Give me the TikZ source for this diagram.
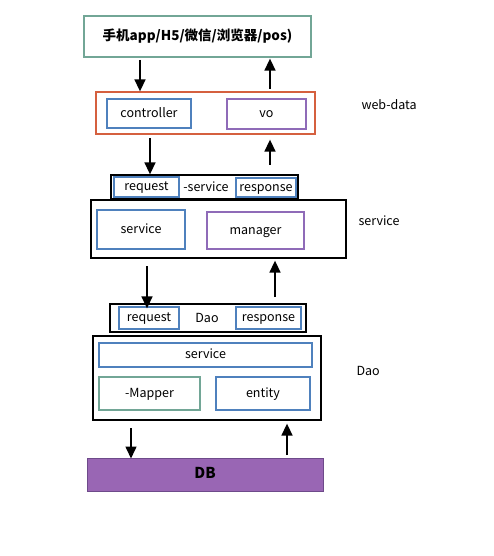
\documentclass[tikz,border=0pt]{standalone}
\usepackage{fontspec}
\setmainfont{Noto Sans CJK SC}
\usetikzlibrary{arrows.meta,shadows}

\definecolor{boxblue}{HTML}{4F81BD}
\definecolor{boxpurple}{HTML}{8F6BB8}
\definecolor{boxteal}{HTML}{72A696}
\definecolor{boxorange}{HTML}{D5603F}
\definecolor{dbfill}{HTML}{9966B4}
\definecolor{dbdraw}{HTML}{6E4A8A}

\begin{document}
\begin{tikzpicture}[
        x=1pt, y=-1pt,
        font=\fontsize{12.5}{14}\selectfont,
        box/.style={draw, line width=1.3pt, inner sep=0pt, fill=white, text height=1.6ex, text depth=0.3ex},
        layer/.style={box, draw=black},
        blue_box/.style={box, draw=boxblue},
        purple_box/.style={box, draw=boxpurple},
        teal_box/.style={box, draw=boxteal},
        side_label/.style={anchor=west},
        flow/.style={-{Triangle[width=11pt,length=12pt]}, line width=1.6pt, black}
    ]
    \useasboundingbox (0,0) rectangle (494,556);

    % --- Client ---
    \node[teal_box, minimum width=227, minimum height=41, font=\fontsize{13.5}{15}\selectfont\bfseries] (client) at (197.5,36.5) {手机app/H5/微信/浏览器/pos)};

    % --- web-data ---
    \node[box, draw=boxorange, minimum width=219, minimum height=42] (web) at (205.5,113) {};
    \node[blue_box, minimum width=84, minimum height=29] (controller) at (149,113.5) {controller};
    \node[purple_box, minimum width=79, minimum height=30] (vo) at (266.5,114) {vo};
    \node[side_label] (weblabel) at (358,105) {web-data};

    % --- service ---
    \node[layer, minimum width=187, minimum height=24] (sbar) at (204.5,187) {};
    \node[blue_box, minimum width=65, minimum height=20] (sreq) at (146.5,187) {request};
    \node (sname) at (206,187) {-service};
    \node[blue_box, minimum width=60, minimum height=19] (sresp) at (266,187.5) {response};
    \node[layer, minimum width=255, minimum height=58] (svc) at (218.5,229) {};
    \node[blue_box, minimum width=88, minimum height=39] (svcin) at (141,229.5) {service};
    \node[purple_box, minimum width=97, minimum height=37] (manager) at (255.5,230.5) {manager};
    \node[side_label] (svclabel) at (355,221) {service};

    % --- Dao ---
    \node[layer, minimum width=196, minimum height=28] (dbar) at (208,318) {};
    \node[blue_box, minimum width=60, minimum height=22] (dreq) at (149,318) {request};
    \node (dname) at (207,318) {Dao};
    \node[blue_box, minimum width=65, minimum height=22] (dresp) at (268.5,318) {response};
    \node[layer, minimum width=228, minimum height=84] (dao) at (207,378) {};
    \node[blue_box, minimum width=213, minimum height=24] (daosvc) at (205.5,355) {service};
    \node[teal_box, minimum width=101, minimum height=33] (mapper) at (149.5,393.5) {-Mapper};
    \node[blue_box, minimum width=94, minimum height=33] (entity) at (263,393.5) {entity};
    \node[side_label] (daolabel) at (353,371) {Dao};

    % --- DB ---
    \node[box, draw=dbdraw, fill=dbfill, line width=1pt, drop shadow={shadow xshift=1pt, shadow yshift=-1pt, opacity=0.3},
        minimum width=236, minimum height=33, font=\fontsize{15}{17}\selectfont\bfseries] (db) at (205,474.5) {DB};

    % --- Arrows ---
    \coordinate (c1) at (140,60);
    \coordinate (c2) at (270,89);
    \draw[flow] (c1) -- (c1 |- web.north);
    \draw[flow] (c2) -- ([yshift=-1pt]c2 |- client.south);

    \coordinate (c3) at (150,138);
    \coordinate (c4) at (270,165);
    \draw[flow] (c3) -- (c3 |- sbar.north);
    \draw[flow] (c4) -- ([yshift=-5pt]c4 |- web.south);

    \coordinate (c5) at (147,266);
    \coordinate (c6) at (275,297);
    \draw[flow] (c5) -- ([yshift=-5pt]c5 |- dbar.north);
    \draw[flow] (c6) -- ([yshift=-2pt]c6 |- svc.south);

    \coordinate (c7) at (131,428);
    \coordinate (c8) at (287,455);
    \draw[flow] (c7) -- ([yshift=-1pt]c7 |- db.north);
    \draw[flow] (c8) -- ([yshift=-3pt]c8 |- dao.south);

\end{tikzpicture}
\end{document}
